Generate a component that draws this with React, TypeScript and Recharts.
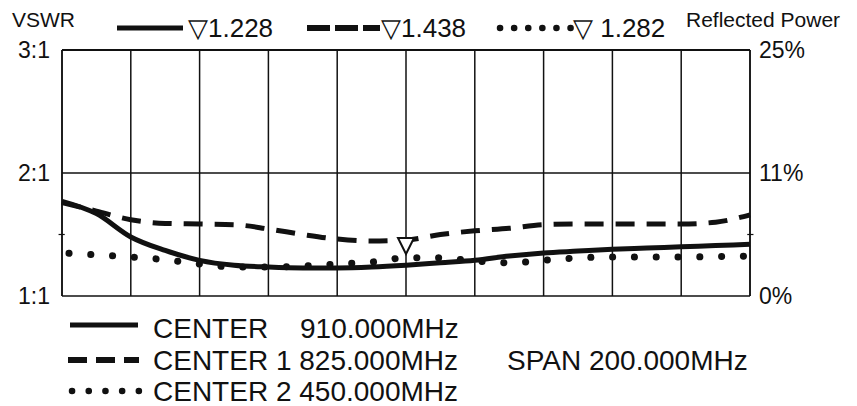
import React from "react";
import {
  LineChart,
  Line,
  XAxis,
  YAxis,
  ReferenceLine,
  ReferenceDot,
} from "recharts";

// frequency axis, in grid divisions (span 200 MHz over 10 divisions)
const freqSteps = [0, 0.5, 1, 1.5, 2, 2.5, 3, 3.5, 4, 4.5, 5, 5.5, 6, 6.5, 7, 7.5, 8, 8.5, 9, 9.5, 10];
const vswrCenter = [1.77, 1.67, 1.48, 1.37, 1.29, 1.25, 1.235, 1.228, 1.228, 1.235, 1.25, 1.27, 1.29, 1.325, 1.35, 1.365, 1.38, 1.39, 1.4, 1.41, 1.42];
const vswrCenter1 = [1.76, 1.69, 1.62, 1.59, 1.585, 1.58, 1.545, 1.5, 1.463, 1.447, 1.455, 1.5, 1.53, 1.55, 1.58, 1.585, 1.585, 1.585, 1.585, 1.6, 1.66];
const vswrCenter2 = [1.35, 1.335, 1.317, 1.295, 1.26, 1.236, 1.236, 1.244, 1.26, 1.276, 1.31, 1.31, 1.285, 1.27, 1.29, 1.31, 1.317, 1.317, 1.317, 1.32, 1.325];

const gridX = [0, 1, 2, 3, 4, 5, 6, 7, 8, 9, 10];
const vswrTicks = [1, 2, 3];
const vswrLabels = ["1:1", "2:1", "3:1"];
const powerLabels = ["0%", "11%", "25%"];

const markerStep = 5;

const data = freqSteps.map((f, i) => ({
  f,
  c: vswrCenter[i],
  c1: vswrCenter1[i],
  c2: vswrCenter2[i],
}));

const FONT = "'Liberation Sans', Arial, Helvetica, sans-serif";
const INK = "#111";

function Marker(props: { cx?: number; cy?: number }) {
  const { cx = 0, cy = 0 } = props;
  return (
    <path
      d={`M${cx - 8},${cy - 2} L${cx + 8},${cy - 2} L${cx},${cy + 14} Z`}
      fill="#fff"
      stroke={INK}
      strokeWidth={2}
    />
  );
}

function LeftTick(props: any) {
  const { x, y, payload } = props;
  return (
    <text x={x} y={y} dy={8} textAnchor="end" fill={INK} fontSize={23} fontFamily={FONT}>
      {vswrLabels[vswrTicks.indexOf(payload.value)]}
    </text>
  );
}

function RightTick(props: any) {
  const { x, y, payload } = props;
  return (
    <text x={x} y={y} dy={8} textAnchor="start" fill={INK} fontSize={23} fontFamily={FONT}>
      {powerLabels[vswrTicks.indexOf(payload.value)]}
    </text>
  );
}

export default function App() {
  return (
    <div style={{ position: "fixed", left: 0, top: 0, width: 857, height: 406, background: "#fff", fontFamily: FONT }}>
      <LineChart width={857} height={406} data={data} margin={{ top: 50, right: 0, bottom: 110, left: 0 }}>
        <XAxis dataKey="f" type="number" domain={[0, 10]} ticks={gridX} hide />
        <YAxis
          yAxisId="l"
          domain={[1, 3]}
          ticks={vswrTicks}
          interval={0}
          width={62}
          tickLine={false}
          tickSize={0}
          tickMargin={12}
          axisLine={{ stroke: INK, strokeWidth: 1.5 }}
          tick={<LeftTick />}
        />
        <YAxis
          yAxisId="r"
          orientation="right"
          domain={[1, 3]}
          ticks={vswrTicks}
          interval={0}
          width={107}
          tickLine={false}
          tickSize={0}
          tickMargin={9}
          axisLine={{ stroke: INK, strokeWidth: 1.5 }}
          tick={<RightTick />}
        />
        {gridX.map((x) => (
          <ReferenceLine key={"x" + x} x={x} yAxisId="l" stroke={INK} strokeWidth={1.5} />
        ))}
        {vswrTicks.map((y) => (
          <ReferenceLine key={"y" + y} y={y} yAxisId="r" stroke={INK} strokeWidth={y === 3 ? 2 : 1.5} />
        ))}
        <ReferenceLine yAxisId="l" ifOverflow="visible" segment={[{ x: -0.05, y: 1.5 }, { x: 0.04, y: 1.5 }]} stroke={INK} strokeWidth={1.2} />
        <ReferenceLine yAxisId="r" ifOverflow="visible" segment={[{ x: 9.96, y: 1.5 }, { x: 10.05, y: 1.5 }]} stroke={INK} strokeWidth={1.2} />
        <Line
          yAxisId="l"
          dataKey="c2"
          type="monotone"
          stroke={INK}
          strokeWidth={7}
          strokeDasharray="0.1 21.7"
          strokeDashoffset={-7}
          strokeLinecap="round"
          dot={false}
          isAnimationActive={false}
        />
        <Line
          yAxisId="l"
          dataKey="c1"
          type="monotone"
          stroke={INK}
          strokeWidth={5}
          strokeDasharray="19 12"
          dot={false}
          isAnimationActive={false}
        />
        <Line
          yAxisId="r"
          dataKey="c"
          type="monotone"
          stroke={INK}
          strokeWidth={5}
          dot={false}
          isAnimationActive={false}
        />
        <ReferenceDot
          yAxisId="l"
          x={freqSteps[markerStep * 2]}
          y={vswrCenter1[markerStep * 2]}
          shape={<Marker />}
        />
      </LineChart>

      <svg width={857} height={406} style={{ position: "absolute", left: 0, top: 0, pointerEvents: "none" }}>
        <g fill={INK} fontFamily={FONT}>
          <text x={12} y={27} fontSize={21}>VSWR</text>
          <text x={686} y={27} fontSize={21}>Reflected Power</text>

          <line x1={117} y1={28} x2={183} y2={28} stroke={INK} strokeWidth={5} />
          <text x={188} y={37} fontSize={26}>▽1.228</text>
          <line x1={307} y1={28} x2={380} y2={28} stroke={INK} strokeWidth={6} strokeDasharray="23 5" />
          <text x={381} y={37} fontSize={26}>▽1.438</text>
          <line x1={500} y1={28} x2={571} y2={28} stroke={INK} strokeWidth={6.5} strokeDasharray="0.1 14" strokeLinecap="round" />
          <text x={573} y={37} fontSize={26}>▽ 1.282</text>

          <line x1={70} y1={325} x2={138} y2={325} stroke={INK} strokeWidth={5} />
          <text x={153} y={338} fontSize={28}>CENTER</text>
          <text x={300} y={338} fontSize={28}>910.000MHz</text>
          <line x1={68} y1={360} x2={139} y2={360} stroke={INK} strokeWidth={6} strokeDasharray="19 9" />
          <text x={153} y={370} fontSize={28}>CENTER 1 825.000MHz</text>
          <text x={507} y={370} fontSize={28}>SPAN 200.000MHz</text>
          <line x1={72} y1={391} x2={139} y2={391} stroke={INK} strokeWidth={6.5} strokeDasharray="0.1 16.6" strokeLinecap="round" />
          <text x={153} y={401} fontSize={28}>CENTER 2 450.000MHz</text>
        </g>
      </svg>
    </div>
  );
}
